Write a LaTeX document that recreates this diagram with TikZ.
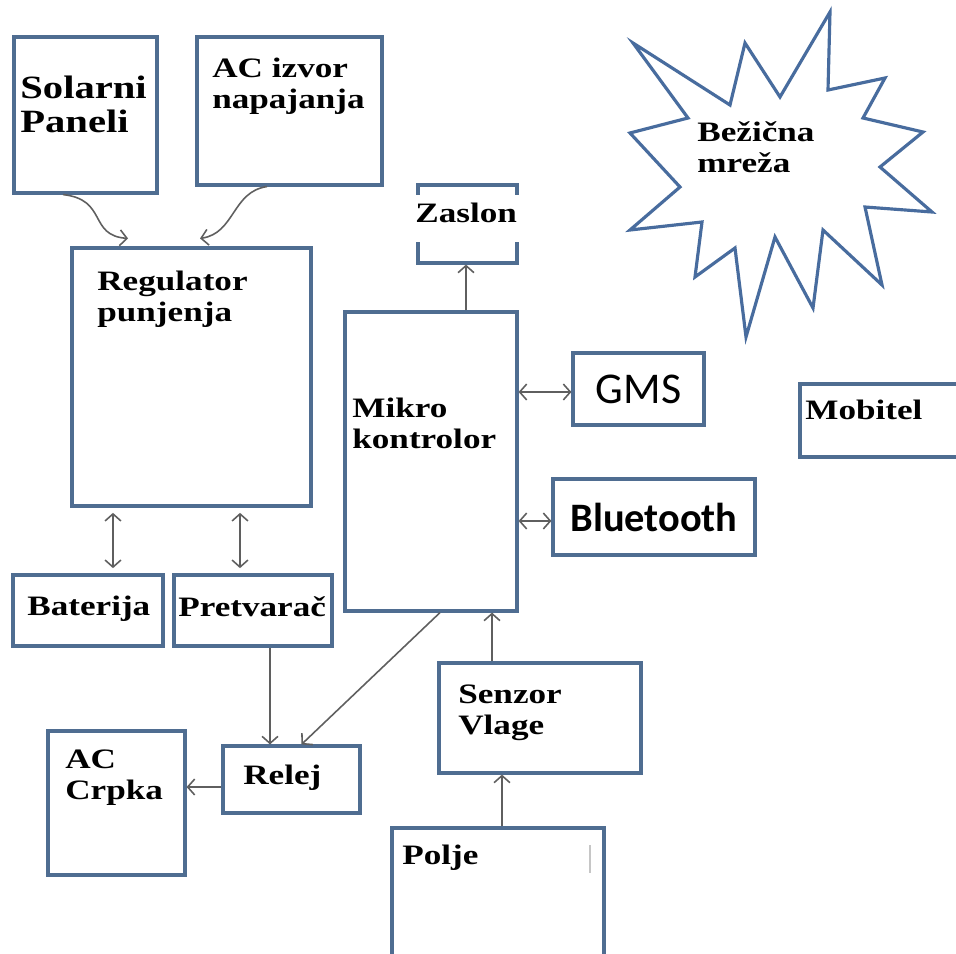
\documentclass[tikz,border=0pt]{standalone}
\usepackage{fontspec}
\setmainfont{Liberation Serif}[FakeStretch=1.25]
\newfontfamily\calibrifont{Carlito}
\usepackage{tikz}
\usetikzlibrary{arrows.meta}
\usetikzlibrary{fit}

\definecolor{boxblue}{RGB}{79,109,145}
\definecolor{starblue}{RGB}{72,108,158}
\definecolor{linegray}{RGB}{95,95,95}

\tikzset{
  box/.style={draw=boxblue, line width=1.8pt, inner sep=0pt},
  lbl/.style={inner sep=0pt, anchor=north west, align=left,
    font=\bfseries\fontsize{16}{17.6}\selectfont},
  conn/.style={draw=linegray, line width=0.9pt,
    -{Straight Barb[length=4pt,width=9pt]}},
  both/.style={draw=linegray, line width=0.9pt,
    {Straight Barb[length=4pt,width=9pt]}-{Straight Barb[length=4pt,width=9pt]}}
}

\begin{document}
\begin{tikzpicture}[x=0.02cm, y=-0.02cm]
      \clip (0, 0) rectangle (956, 953);
      \fill[white] (0, 0) rectangle (956, 953);

      % boxes
      \node (sol) [box, fit={(14, 37) (157, 193)}] {};
      \node (ac)  [box, fit={(197, 37) (382, 185)}] {};
      \node (reg) [box, fit={(72, 248) (311, 506)}] {};
      \node (zas) [box, fit={(418, 185) (517, 263)}] {};
      \node (mik) [box, fit={(345, 312) (517, 611)}] {};
      \node (gms) [box, fit={(573, 353) (704, 425)}] {};
      \node (blu) [box, fit={(553, 479) (755, 555)}] {};
      \node (mob) [box, fit={(800, 384) (975, 457)}] {};
      \node (bat) [box, fit={(13, 575) (163, 646)}] {};
      \node (pre) [box, fit={(174, 575) (332, 646)}] {};
      \node (rel) [box, fit={(223, 746) (360, 813)}] {};
      \node (crp) [box, fit={(48, 731) (185, 875)}] {};
      \node (sen) [box, fit={(439, 663) (641, 773)}] {};
      \node (pol) [box, fit={(392, 828) (604, 980)}] {};

      % wireless cloud
      \draw[starblue, line width=1.8pt, line join=miter]
        (633, 43) -- (730, 105) -- (745, 43) -- (780, 97) -- (830, 12)
        -- (828, 90) -- (885, 78) -- (863, 118) -- (923, 132) -- (880, 167)
        -- (932, 212) -- (865, 207) -- (882, 285) -- (823, 230) -- (813, 308)
        -- (775, 237) -- (746, 337) -- (735, 248) -- (695, 277) -- (702, 222)
        -- (630, 230) -- (680, 187) -- (630, 133) -- (688, 118) -- cycle;

      % labels
      \node (solT) [lbl, font=\bfseries\fontsize{18.5}{19}\selectfont] at (20, 76) {Solarni\\Paneli};
      \node (acT)  [lbl] at (212, 58) {AC izvor\\napajanja};
      \node (regT) [lbl] at (97, 271) {Regulator\\punjenja};
      \node (zasT) [lbl, fill=white, inner xsep=0.1cm, text height=0.54cm,
        text depth=0.4cm] at (410, 195) {Zaslon};
      \node (mikT) [lbl] at (352, 398) {Mikro\\kontrolor};
      \node (bezT) [lbl] at (697, 121) {Bežična\\mreža};
      \node (mobT) [lbl] at (805, 400) {Mobitel};
      \node (batT) [lbl] at (27, 596) {Baterija};
      \node (preT) [lbl] at (178, 596) {Pretvarač};
      \node (relT) [lbl] at (243, 765) {Relej};
      \node (crpT) [lbl] at (65, 750) {AC\\Crpka};
      \node (senT) [lbl] at (458, 685) {Senzor\\Vlage};
      \node (polT) [lbl] at (402, 845) {Polje};
      \node (gmsT) [font=\calibrifont\fontsize{25}{28}\selectfont] at (gms) {GMS};
      \node (bluT) [font=\calibrifont\bfseries\fontsize{23}{26}\selectfont] at (blu) {Bluetooth};
      \draw[gray!45, line width=0.6pt] (590, 845) -- (590, 873);

      % connections
      \draw[conn] ([xshift=-0.45cm]sol.south) .. controls +(45, 5) and +(-40, -3) .. ([xshift=-1.27cm, yshift=0.16cm]reg.north);
      \draw[conn] ([xshift=-0.45cm]ac.south) .. controls +(-35, 5) and +(35, -5) .. ([xshift=0.17cm, yshift=0.16cm]reg.north);
      \draw[both, shorten <=3pt, shorten >=3pt] ([xshift=0.5cm]bat.north) -- ([xshift=0.5cm]bat.north |- reg.south);
      \draw[both, shorten <=3pt, shorten >=3pt] ([xshift=-0.26cm]pre.north) -- ([xshift=-0.26cm]pre.north |- reg.south);
      \draw[conn] ([xshift=0.7cm]mik.north) -- ([xshift=0.7cm]mik.north |- zas.south);
      \draw[both] ([yshift=-0.06cm]gms.west -| mik.east) -- ([yshift=-0.06cm]gms.west);
      \draw[both] ([yshift=-0.08cm]blu.west -| mik.east) -- ([yshift=-0.08cm]blu.west);
      \draw[conn] ([xshift=0.34cm]pre.south) -- ([xshift=0.34cm]pre.south |- rel.north);
      \draw[conn] ([xshift=0.18cm]mik.south) -- ([xshift=0.2cm]rel.north);
      \draw[conn] ([yshift=-0.15cm]rel.west) -- ([yshift=-0.15cm]rel.west -| crp.east);
      \draw[conn] ([xshift=-0.96cm]sen.north) -- ([xshift=-0.96cm]sen.north |- mik.south);
      \draw[conn] ([xshift=0.08cm]pol.north) -- ([xshift=0.08cm]pol.north |- sen.south);
    \end{tikzpicture}
\end{document}
